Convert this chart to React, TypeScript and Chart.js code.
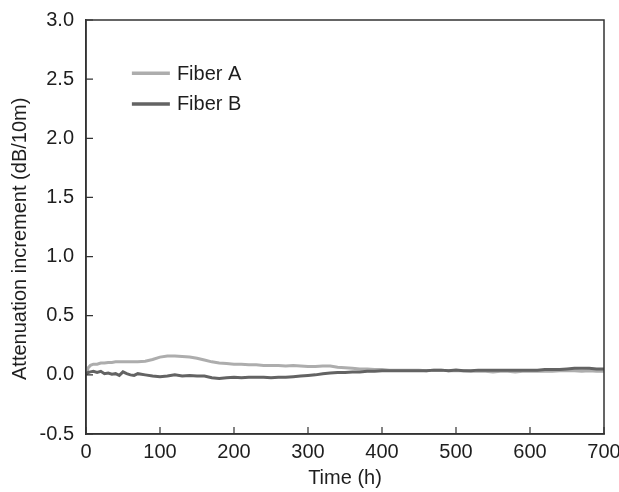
import React, { useEffect, useRef } from "react";
import { Chart, registerables } from "chart.js";

Chart.register(...registerables);

const timeHours = [
  0, 3, 6, 10, 15, 20, 25, 30, 35, 40, 45, 50, 55, 60, 65, 70, 80, 90, 100, 110,
  120, 130, 140, 150, 160, 170, 180, 190, 200, 210, 220, 230, 240, 250, 260, 270,
  280, 290, 300, 310, 320, 330, 340, 350, 360, 370, 380, 390, 400, 410, 420, 430,
  440, 450, 460, 470, 480, 490, 500, 510, 520, 530, 540, 550, 560, 570, 580, 590,
  600, 610, 620, 630, 640, 650, 660, 670, 680, 690, 700,
];

const fiberA = [
  0.0, 0.06, 0.08, 0.09, 0.09, 0.1, 0.1, 0.105, 0.105, 0.11, 0.11, 0.11, 0.11, 0.11,
  0.11, 0.11, 0.115, 0.13, 0.15, 0.16, 0.16, 0.155, 0.15, 0.14, 0.125, 0.11, 0.1,
  0.095, 0.09, 0.09, 0.085, 0.085, 0.08, 0.08, 0.08, 0.075, 0.08, 0.075, 0.07, 0.07,
  0.075, 0.075, 0.065, 0.06, 0.055, 0.05, 0.05, 0.045, 0.045, 0.04, 0.04, 0.04, 0.04,
  0.04, 0.035, 0.04, 0.04, 0.035, 0.035, 0.035, 0.03, 0.03, 0.03, 0.025, 0.03, 0.03,
  0.025, 0.03, 0.03, 0.03, 0.03, 0.03, 0.035, 0.035, 0.035, 0.03, 0.035, 0.03, 0.03,
];

const fiberB = [
  0.01, 0.02, 0.025, 0.03, 0.02, 0.03, 0.01, 0.015, 0.005, 0.01, -0.005, 0.025, 0.01,
  0.0, -0.005, 0.01, 0.0, -0.01, -0.015, -0.01, 0.0, -0.01, -0.005, -0.01, -0.01,
  -0.025, -0.03, -0.025, -0.02, -0.025, -0.02, -0.02, -0.02, -0.025, -0.02, -0.02,
  -0.015, -0.01, -0.005, 0.0, 0.01, 0.015, 0.02, 0.02, 0.025, 0.025, 0.03, 0.03, 0.035,
  0.035, 0.035, 0.035, 0.035, 0.035, 0.035, 0.04, 0.04, 0.035, 0.04, 0.035, 0.035,
  0.04, 0.04, 0.04, 0.04, 0.04, 0.04, 0.04, 0.04, 0.04, 0.045, 0.045, 0.045, 0.05,
  0.055, 0.055, 0.055, 0.05, 0.05,
];

const seriesLabels = ["Fiber A", "Fiber B"];
const seriesColors = ["#adadad", "#636363"];
const yTitle = "Attenuation increment (dB/10m)";
const xTitle = "Time (h)";

const FONT = "'Liberation Sans', Arial, Helvetica, sans-serif";
const TEXT = "#1e1e1e";
const AXIS = "#333333";

const frameAndTicks = {
  id: "frameAndTicks",
  afterDraw(chart: any) {
    const { ctx, chartArea } = chart;
    const xs = chart.scales.x;
    const ys = chart.scales.y;
    ctx.save();
    ctx.strokeStyle = AXIS;
    ctx.lineWidth = 1.5;
    ctx.strokeRect(chartArea.left, chartArea.top, chartArea.right - chartArea.left, chartArea.bottom - chartArea.top);
    ctx.lineWidth = 1.2;
    ctx.beginPath();
    xs.ticks.forEach((t: any) => {
      const px = xs.getPixelForValue(t.value);
      ctx.moveTo(px, chartArea.bottom);
      ctx.lineTo(px, chartArea.bottom - 7);
    });
    ys.ticks.forEach((t: any) => {
      const py = ys.getPixelForValue(t.value);
      ctx.moveTo(chartArea.left, py);
      ctx.lineTo(chartArea.left + 7, py);
    });
    ctx.stroke();

    // y-axis title
    ctx.fillStyle = TEXT;
    ctx.font = `20px ${FONT}`;
    ctx.save();
    ctx.translate(20, ys.getPixelForValue(1.15));
    ctx.rotate(-Math.PI / 2);
    ctx.textAlign = "center";
    ctx.textBaseline = "middle";
    ctx.fillText(yTitle, 0, 0);
    ctx.restore();

    // legend
    const lx = xs.getPixelForValue(62);
    const rowY = [ys.getPixelForValue(2.55), ys.getPixelForValue(2.29)];
    chart.data.datasets.forEach((ds: any, i: number) => {
      const y = rowY[i];
      ctx.strokeStyle = ds.borderColor;
      ctx.lineWidth = 3.5;
      ctx.beginPath();
      ctx.moveTo(lx, y);
      ctx.lineTo(lx + 38, y);
      ctx.stroke();
      ctx.fillStyle = TEXT;
      ctx.font = `20px ${FONT}`;
      ctx.textBaseline = "middle";
      ctx.textAlign = "left";
      ctx.fillText(ds.label, lx + 45, y + 1);
    });
    ctx.restore();
  },
};

export default function App() {
  const ref = useRef<HTMLCanvasElement | null>(null);
  useEffect(() => {
    if (!ref.current) return;
    const chart = new Chart(ref.current, {
      type: "line",
      data: {
        datasets: [
          {
            label: seriesLabels[0],
            data: timeHours.map((t, i) => ({ x: t, y: fiberA[i] })),
            borderColor: seriesColors[0],
            borderWidth: 3,
            pointRadius: 0,
            tension: 0,
            order: 1,
          },
          {
            label: seriesLabels[1],
            data: timeHours.map((t, i) => ({ x: t, y: fiberB[i] })),
            borderColor: seriesColors[1],
            borderWidth: 3,
            pointRadius: 0,
            tension: 0,
            order: 0,
          },
        ],
      },
      options: {
        responsive: false,
        animation: false,
        layout: { padding: { top: 20, right: 15, left: 0, bottom: 0 } },
        plugins: { legend: { display: false }, tooltip: { enabled: false } },
        scales: {
          x: {
            type: "linear",
            min: 0,
            max: 700,
            afterFit: (s: any) => {
              s.height = 58;
              s.paddingLeft = 0;
              s.paddingRight = 0;
            },
            ticks: { stepSize: 100, color: TEXT, font: { family: FONT, size: 20 }, padding: 6, maxRotation: 0 },
            grid: { display: false, drawTicks: false },
            border: { display: true, color: AXIS, width: 1.5 },
            title: {
              display: true,
              text: xTitle,
              color: TEXT,
              font: { family: FONT, size: 20, lineHeight: 1.2 },
              padding: { top: 0, bottom: 2 },
            },
          },
          y: {
            type: "linear",
            min: -0.5,
            max: 3,
            afterFit: (s: any) => {
              s.width = 86;
              s.paddingTop = 0;
              s.paddingBottom = 0;
            },
            ticks: {
              stepSize: 0.5,
              color: TEXT,
              font: { family: FONT, size: 20 },
              padding: 12,
              callback: (v: any) => Number(v).toFixed(1),
            },
            grid: { display: false, drawTicks: false },
            border: { display: true, color: AXIS, width: 1.5 },
          },
        },
      },
      plugins: [frameAndTicks],
    });
    return () => chart.destroy();
  }, []);
  return (
    <div style={{ position: "absolute", left: 0, top: 0, width: 619, height: 492, background: "#fff" }}>
      <canvas ref={ref} width={619} height={492} />
    </div>
  );
}
